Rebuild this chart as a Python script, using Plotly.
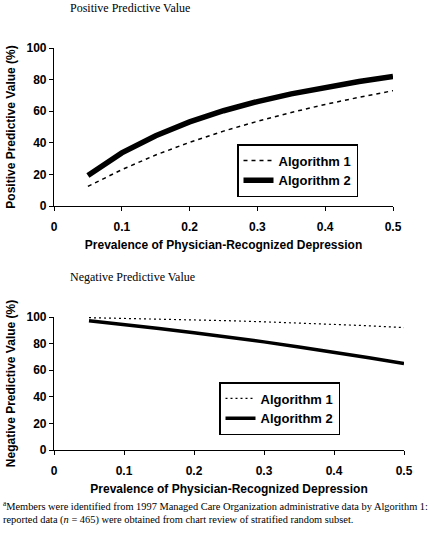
import plotly.graph_objects as go

prevalence = [0.05, 0.10, 0.15, 0.20, 0.25, 0.30, 0.35, 0.40, 0.45, 0.50]
ppv_alg1 = [12.4, 23.0, 32.3, 40.3, 47.4, 53.6, 59.2, 64.3, 68.8, 73.0]
ppv_alg2 = [19.3, 33.6, 44.5, 53.2, 60.3, 66.1, 71.0, 75.2, 78.8, 82.0]
npv_alg1 = [99.5, 99.0, 98.5, 97.9, 97.2, 96.4, 95.5, 94.5, 93.4, 92.0]
npv_alg2 = [97.2, 94.4, 91.3, 88.1, 84.8, 81.3, 77.5, 73.6, 69.4, 65.0]
x_ticks = [0, 0.1, 0.2, 0.3, 0.4, 0.5]
x_ticklabels = ["0", "0.1", "0.2", "0.3", "0.4", "0.5"]
y_ticks = [0, 20, 40, 60, 80, 100]

W, H = 435, 534
sans = "Liberation Sans, Arial, sans-serif"
serif = "Liberation Serif, Times New Roman, serif"

fig = go.Figure()
fig.add_trace(go.Scatter(x=prevalence, y=ppv_alg1, mode="lines", name="Algorithm 1",
                         line=dict(color="black", width=1.5, dash="4px,4px"),
                         xaxis="x", yaxis="y", legend="legend"))
fig.add_trace(go.Scatter(x=prevalence, y=ppv_alg2, mode="lines", name="Algorithm 2",
                         line=dict(color="black", width=5.5),
                         xaxis="x", yaxis="y", legend="legend"))
fig.add_trace(go.Scatter(x=prevalence, y=npv_alg1, mode="lines", name="Algorithm 1",
                         line=dict(color="black", width=1.2, dash="2px,3px"),
                         xaxis="x2", yaxis="y2", legend="legend2"))
fig.add_trace(go.Scatter(x=prevalence, y=npv_alg2, mode="lines", name="Algorithm 2",
                         line=dict(color="black", width=3.5),
                         xaxis="x2", yaxis="y2", legend="legend2"))

tickfont = dict(family=sans, size=12, color="black")
titlefont = dict(family=sans, size=12, color="black")

def xaxis(domain, anchor):
    return dict(domain=domain, anchor=anchor, range=[0, 0.5], tickvals=x_ticks,
                ticktext=["<b>%s</b>" % t for t in x_ticklabels],
                showline=True, linecolor="black", linewidth=1.2, ticks="outside",
                ticklen=4, tickcolor="black", tickwidth=1.2, showgrid=False,
                zeroline=False, tickfont=tickfont, automargin=False,
                ticklabelstandoff=5,
                title=dict(text="<b>Prevalence of Physician-Recognized Depression</b>",
                           font=titlefont, standoff=8))

def yaxis(domain, anchor, title):
    return dict(domain=domain, anchor=anchor, range=[0, 100], tickvals=y_ticks,
                ticktext=["<b>%d</b>" % t for t in y_ticks],
                showline=True, linecolor="black", linewidth=1.2, ticks="outside",
                ticklen=4, tickcolor="black", tickwidth=1.2, showgrid=False,
                zeroline=False, tickfont=tickfont, automargin=False,
                title=dict(text="<b>%s</b>" % title, font=titlefont, standoff=8))

legend_common = dict(bgcolor="white", bordercolor="black", borderwidth=1.5,
                     font=dict(family=sans, size=13, color="black"),
                     xanchor="left", yanchor="top", traceorder="normal")

fig.update_layout(
    width=W, height=H,
    margin=dict(l=0, r=0, t=0, b=0, autoexpand=False),
    paper_bgcolor="white", plot_bgcolor="white",
    xaxis=xaxis([54 / W, 393 / W], "y"),
    yaxis=yaxis([1 - 206 / H, 1 - 48 / H], "x", "Positive Predictive Value (%)"),
    xaxis2=xaxis([54 / W, 404 / W], "y2"),
    yaxis2=yaxis([1 - 450 / H, 1 - 317 / H], "x2", "Negative Predictive Value (%)"),
    legend=dict(x=237 / W, y=1 - 144 / H, **legend_common),
    legend2=dict(x=219 / W, y=1 - 382 / H, **legend_common),
    showlegend=True,
)
for tr in fig.data:
    tr.name = "<b>%s</b>" % tr.name

fig.add_annotation(text="Positive Predictive Value", xref="paper", yref="paper",
                   x=68 / W, y=1 - 8 / H, xanchor="left", yanchor="middle",
                   showarrow=False, font=dict(family=serif, size=12, color="black"))
fig.add_annotation(text="Negative Predictive Value", xref="paper", yref="paper",
                   x=68 / W, y=1 - 277 / H, xanchor="left", yanchor="middle",
                   showarrow=False, font=dict(family=serif, size=12, color="black"))
fig.add_annotation(
    text="<sup>a</sup>Members were identified from 1997 Managed Care Organization administrative data by Algorithm 1:",
    xref="paper", yref="paper", x=1 / W, y=1 - 505.5 / H, xanchor="left", yanchor="middle",
    align="left", showarrow=False, font=dict(family=serif, size=10.4, color="black"))
fig.add_annotation(
    text="reported data (<i>n</i> = 465) were obtained from chart review of stratified random subset.",
    xref="paper", yref="paper", x=1 / W, y=1 - 520 / H, xanchor="left", yanchor="middle",
    align="left", showarrow=False, font=dict(family=serif, size=10.4, color="black"))

fig.write_html("out.html", config={"displayModeBar": False},
               post_script="document.body.style.margin='0';document.body.style.overflow='hidden';")
